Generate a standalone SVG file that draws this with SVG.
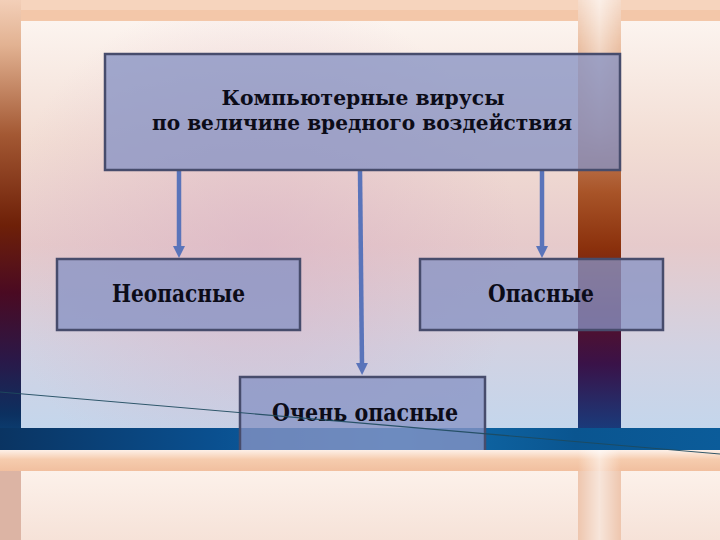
<svg xmlns="http://www.w3.org/2000/svg" width="720" height="540" viewBox="0 0 720 540">
<defs>
<style>
.box{fill:rgb(136,148,196);fill-opacity:0.78;stroke:#474c6c;stroke-width:2.5}
.boxfill{fill:rgb(136,148,196);fill-opacity:0.78}
.edge{fill:none;stroke:#474c6c;stroke-width:2.5}
.lbl{font-family:"DejaVu Serif","Liberation Serif",serif;font-weight:bold;fill:#0c0c18}
.arr{stroke:#5a74ba;stroke-width:4.5;fill:none;marker-end:url(#ah)}
</style>
<marker id="ah" viewBox="0 0 12 12" markerWidth="12" markerHeight="12" markerUnits="userSpaceOnUse" refX="3" refY="6" orient="auto">
<path d="M0,0 L12,6 L0,12 z" fill="#5a74ba"/>
</marker>
<linearGradient id="gLeft" x1="0" y1="0" x2="0" y2="450" gradientUnits="userSpaceOnUse">
<stop offset="0" stop-color="#f3cfb8"/>
<stop offset="0.1" stop-color="#e2b292"/>
<stop offset="0.3" stop-color="#a35833"/>
<stop offset="0.5" stop-color="#6e2008"/>
<stop offset="0.65" stop-color="#4a0a22"/>
<stop offset="0.8" stop-color="#2a1848"/>
<stop offset="0.92" stop-color="#0c3060"/>
<stop offset="1" stop-color="#0a4a80"/>
</linearGradient>
<linearGradient id="gBand" x1="0" y1="0" x2="0" y2="428" gradientUnits="userSpaceOnUse">
<stop offset="0" stop-color="#f6dccb"/>
<stop offset="0.1" stop-color="#ecc2a6"/>
<stop offset="0.3" stop-color="#cc8c6a"/>
<stop offset="0.45" stop-color="#a85428"/>
<stop offset="0.58" stop-color="#8a300c"/>
<stop offset="0.72" stop-color="#5a1022"/>
<stop offset="0.85" stop-color="#3a1248"/>
<stop offset="1" stop-color="#1a3a7a"/>
</linearGradient>
<linearGradient id="gBandH" x1="578" y1="0" x2="621" y2="0" gradientUnits="userSpaceOnUse">
<stop offset="0" stop-color="#fff" stop-opacity="0"/>
<stop offset="0.5" stop-color="#fff" stop-opacity="0.55"/>
<stop offset="1" stop-color="#fff" stop-opacity="0"/>
</linearGradient>
<linearGradient id="gFade" x1="0" y1="0" x2="0" y2="1">
<stop offset="0" stop-color="#fff" stop-opacity="1"/>
<stop offset="1" stop-color="#fff" stop-opacity="0"/>
</linearGradient>
<mask id="mFade"><rect x="578" y="0" width="43" height="160" fill="url(#gFade)"/></mask>
<linearGradient id="gPanel" x1="0" y1="21" x2="0" y2="428" gradientUnits="userSpaceOnUse">
<stop offset="0" stop-color="#fcf4ef"/>
<stop offset="0.3" stop-color="#f2ddd4"/>
<stop offset="0.55" stop-color="#e6cacb"/>
<stop offset="0.8" stop-color="#d2d2e2"/>
<stop offset="1" stop-color="#c4d6ec"/>
</linearGradient>
<radialGradient id="gGlow" cx="260" cy="250" r="260" gradientUnits="userSpaceOnUse">
<stop offset="0" stop-color="#d8b0c4" stop-opacity="0.55"/>
<stop offset="1" stop-color="#d8b0c4" stop-opacity="0"/>
</radialGradient>
<linearGradient id="gBlue" x1="0" y1="0" x2="720" y2="0" gradientUnits="userSpaceOnUse">
<stop offset="0" stop-color="#0a3462"/>
<stop offset="0.3" stop-color="#0a5090"/>
<stop offset="0.55" stop-color="#116eae"/>
<stop offset="0.8" stop-color="#0a5590"/>
<stop offset="1" stop-color="#0b5c9a"/>
</linearGradient>
<linearGradient id="gStrip" x1="0" y1="450" x2="0" y2="471" gradientUnits="userSpaceOnUse">
<stop offset="0" stop-color="#fdf0e8"/>
<stop offset="0.45" stop-color="#f6ccae"/>
<stop offset="1" stop-color="#f1bf9f"/>
</linearGradient>
<linearGradient id="gLow" x1="0" y1="471" x2="0" y2="540" gradientUnits="userSpaceOnUse">
<stop offset="0" stop-color="#fcf1ea"/>
<stop offset="1" stop-color="#f6e2d8"/>
</linearGradient>
</defs>

<!-- background -->
<rect x="0" y="0" width="720" height="540" fill="#f3c7a9"/>
<rect x="0" y="0" width="720" height="10" fill="#f8dccb" opacity="0.6"/>
<rect x="0" y="0" width="21" height="450" fill="url(#gLeft)"/>
<rect x="578" y="0" width="43" height="428" fill="url(#gBand)"/>
<rect x="578" y="0" width="43" height="160" fill="url(#gBandH)" mask="url(#mFade)"/>
<rect x="21" y="21" width="557" height="407" fill="url(#gPanel)"/>
<rect x="21" y="21" width="557" height="407" fill="url(#gGlow)"/>
<rect x="621" y="21" width="99" height="407" fill="url(#gPanel)"/>
<rect x="0" y="428" width="720" height="22" fill="url(#gBlue)"/>

<!-- connectors -->
<g id="connectors">
<line class="arr" x1="179" y1="171" x2="179" y2="249"/>
<line class="arr" x1="360" y1="171" x2="362" y2="366"/>
<line class="arr" x1="542" y1="171" x2="542" y2="249"/>
</g>

<!-- nodes -->
<g id="node-root">
<rect class="box" x="105" y="54" width="515" height="116"/>
<text class="lbl" x="363" y="105" font-size="21" text-anchor="middle" textLength="283" lengthAdjust="spacingAndGlyphs">Компьютерные вирусы</text>
<text class="lbl" x="362" y="130" font-size="21" text-anchor="middle" textLength="420" lengthAdjust="spacingAndGlyphs">по величине вредного воздействия</text>
</g>
<g id="node-safe">
<rect class="box" x="57" y="259" width="243" height="71"/>
<text class="lbl" x="112" y="302" font-size="24" textLength="133" lengthAdjust="spacingAndGlyphs">Неопасные</text>
</g>
<g id="node-danger">
<rect class="box" x="420" y="259" width="243" height="71"/>
<text class="lbl" x="488" y="302" font-size="24" textLength="106" lengthAdjust="spacingAndGlyphs">Опасные</text>
</g>
<g id="node-verydanger">
<rect class="boxfill" x="240" y="377" width="245" height="73"/>
<path class="edge" d="M240,450 V377 H485 V450"/>
<text class="lbl" x="272" y="421" font-size="24" textLength="186" lengthAdjust="spacingAndGlyphs">Очень опасные</text>
</g>

<!-- lower slide tile -->
<rect x="0" y="450" width="720" height="21" fill="url(#gStrip)"/>
<rect x="0" y="471" width="21" height="69" fill="#dcb4a4"/>
<rect x="21" y="471" width="557" height="69" fill="url(#gLow)"/>
<rect x="578" y="471" width="43" height="69" fill="#eec6ae"/>
<rect x="578" y="450" width="43" height="90" fill="url(#gBandH)"/>
<rect x="621" y="471" width="99" height="69" fill="url(#gLow)"/>

<!-- thin diagonal line -->
<line x1="0" y1="392" x2="720" y2="454" stroke="#1e4a5e" stroke-width="1.1" opacity="0.9"/>
</svg>
